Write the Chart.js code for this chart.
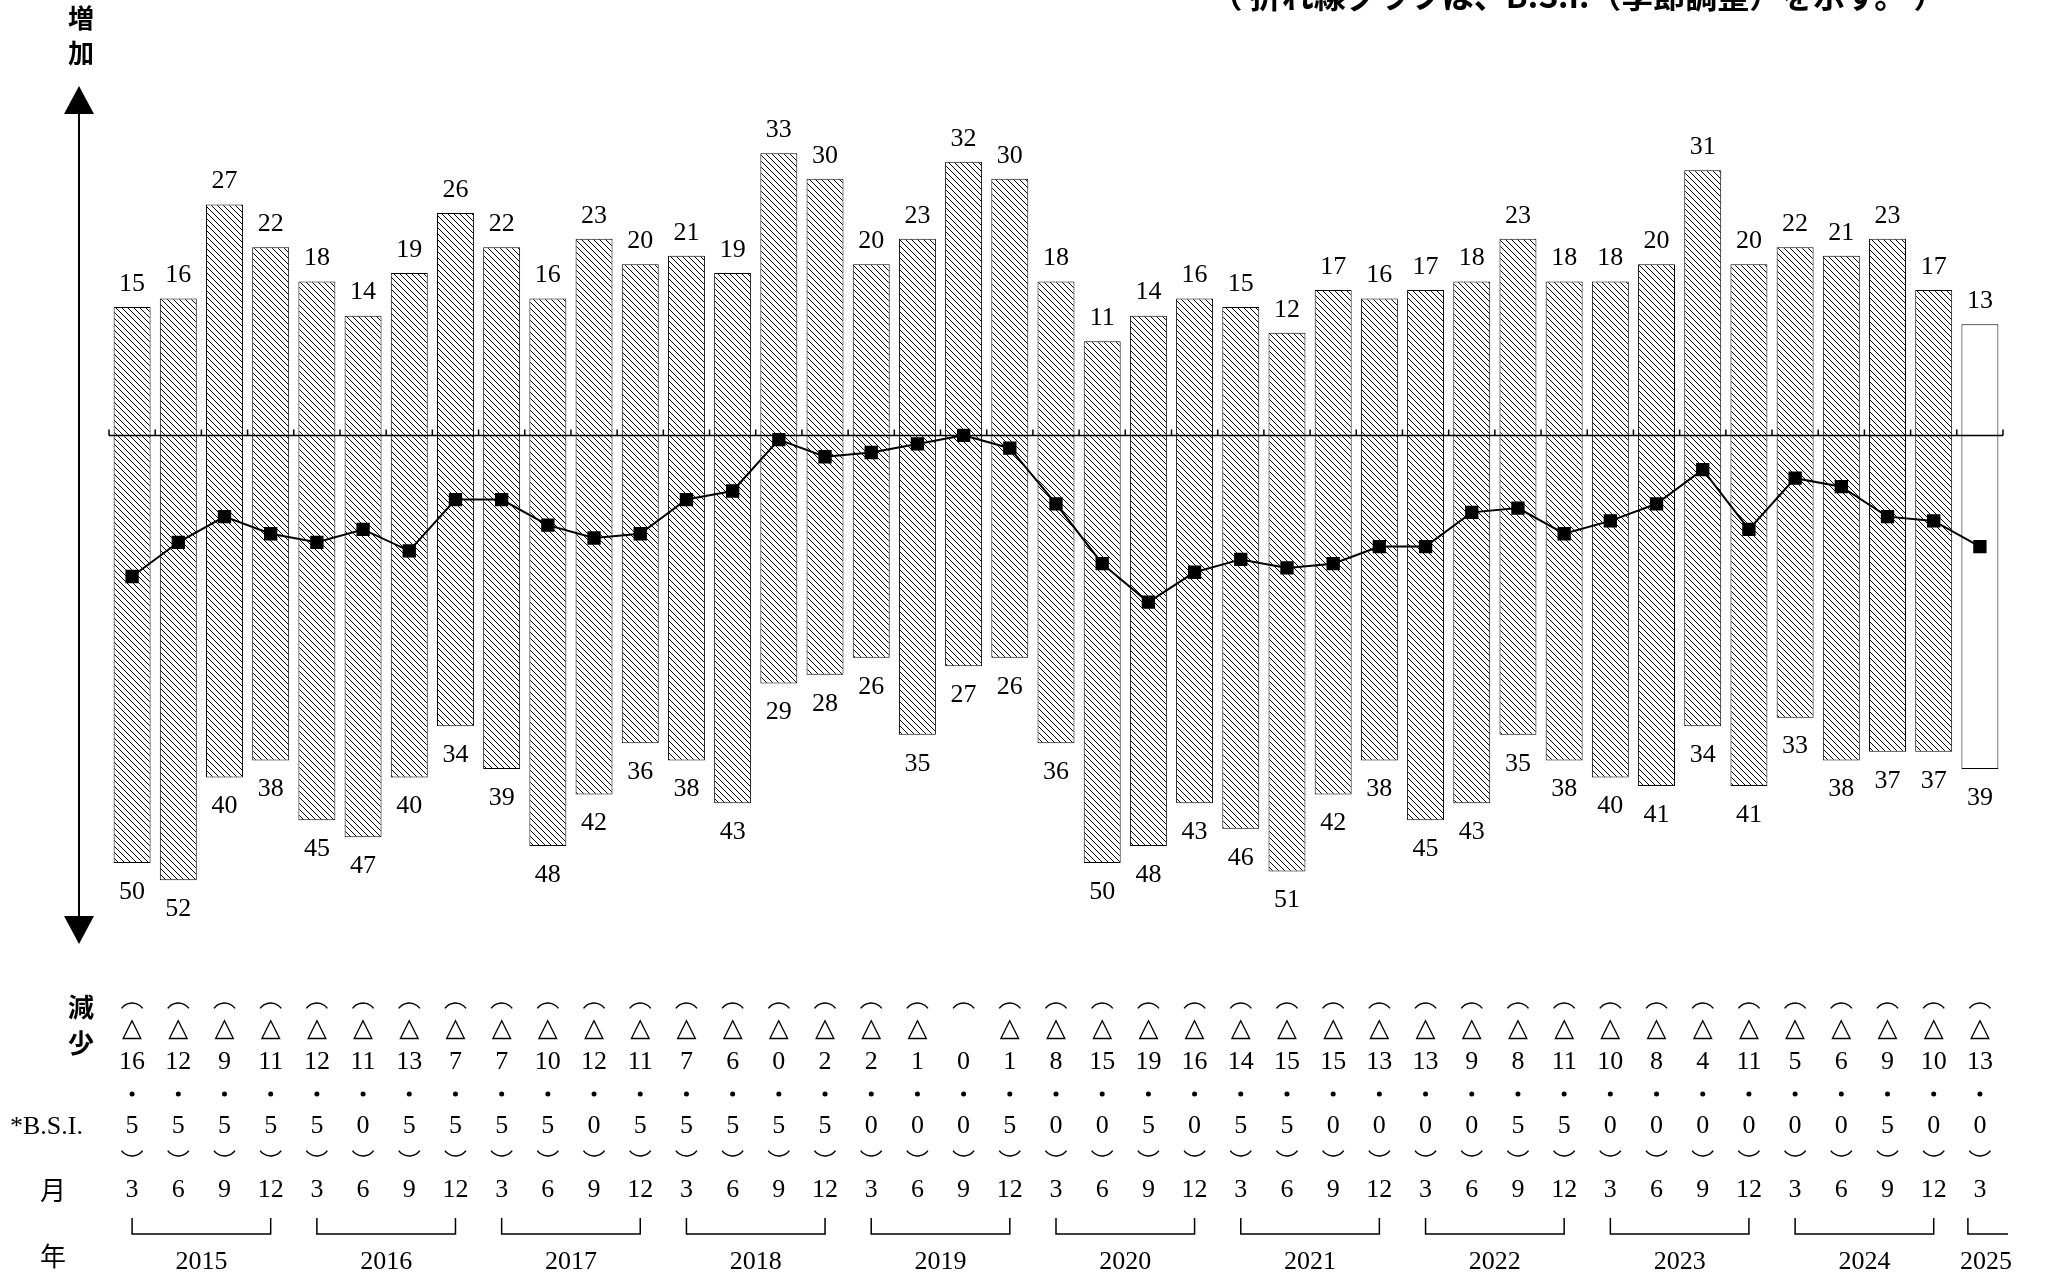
<!DOCTYPE html>
<html><head><meta charset="utf-8">
<script src="https://cdn.jsdelivr.net/npm/chart.js@4"></script>
<style>html,body{margin:0;background:#fff}canvas{display:block}</style>
</head><body>
<div style="width:2048px;height:1272px"><canvas id="c"></canvas></div>
<script>
const months = [3, 6, 9, 12];
const years = ['2015', '2016', '2017', '2018', '2019', '2020', '2021', '2022', '2023', '2024', '2025'];
const increase = [15,16,27,22,18,14,19,26,22,16,23,20,21,19,33,30,20,23,32,30,18,11,14,16,15,12,17,16,17,18,23,18,18,20,31,20,22,21,23,17,13];
const decrease = [50,52,40,38,45,47,40,34,39,48,42,36,38,43,29,28,26,35,27,26,36,50,48,43,46,51,42,38,45,43,35,38,40,41,34,41,33,38,37,37,39];
const bsi = [-16.5,-12.5,-9.5,-11.5,-12.5,-11.0,-13.5,-7.5,-7.5,-10.5,-12.0,-11.5,-7.5,-6.5,-0.5,-2.5,
  -2.0,-1.0,0.0,-1.5,-8.0,-15.0,-19.5,-16.0,-14.5,-15.5,-15.0,-13.0,-13.0,-9.0,-8.5,-11.5,
  -10.0,-8.0,-4.0,-11.0,-5.0,-6.0,-9.5,-10.0,-13.0];

const labels = increase.map((v, i) => months[i % 4]);
const numFont = '26px "Liberation Serif", "DejaVu Serif", serif';
const jpFont = 'bold 26px "Noto Sans CJK JP", sans-serif';

function hatch () {
    const p = document.createElement('canvas');
    p.width = p.height = 6;
    const g = p.getContext('2d');
    g.fillStyle = '#fff';
    g.fillRect(0, 0, 6, 6);
    g.strokeStyle = '#000';
    g.lineWidth = 1;
    g.beginPath();
    g.moveTo(-1, -1); g.lineTo(7, 7);
    g.moveTo(-1, 5); g.lineTo(1, 7);
    g.moveTo(5, -1); g.lineTo(7, 1);
    g.stroke();
    return g.createPattern(p, 'repeat');
}
const pat = hatch();
const fills = increase.map((v, i) => i === increase.length - 1 ? '#fff' : pat);

const overlay = {
    id: 'overlay',
    afterDraw (chart) {
        const ctx = chart.ctx;
        const x = chart.scales.x, y = chart.scales.y;
        const y0 = y.getPixelForValue(0);
        const w = x.getPixelForValue(1) - x.getPixelForValue(0);
        ctx.save();
        ctx.fillStyle = '#000';
        ctx.strokeStyle = '#000';
        // zero line with ticks
        ctx.lineWidth = 1.5;
        ctx.beginPath();
        ctx.moveTo(109, y0); ctx.lineTo(chart.chartArea.right, y0);
        for (let i = 0; i <= increase.length; i++) {
            const xp = x.getPixelForValue(i) - w / 2;
            ctx.moveTo(xp, y0); ctx.lineTo(xp, y0 - 6);
        }
        ctx.stroke();
        // vertical arrow
        ctx.lineWidth = 2;
        ctx.beginPath();
        ctx.moveTo(79, 110); ctx.lineTo(79, 920); ctx.stroke();
        ctx.beginPath();
        ctx.moveTo(79, 86); ctx.lineTo(64, 114); ctx.lineTo(94, 114); ctx.closePath(); ctx.fill();
        ctx.beginPath();
        ctx.moveTo(79, 944); ctx.lineTo(64, 916); ctx.lineTo(94, 916); ctx.closePath(); ctx.fill();

        ctx.textAlign = 'center';
        ctx.font = jpFont;
        ctx.fillText('増', 81, 28);
        ctx.fillText('加', 81, 63);
        ctx.fillText('減', 81, 1017);
        ctx.fillText('少', 81, 1053);
        ctx.font = '26px "Noto Sans CJK JP", sans-serif';
        ctx.fillText('月', 53, 1200);
        ctx.fillText('年', 53, 1266);
        ctx.font = 'bold 32px "Noto Sans CJK JP", sans-serif';
        ctx.fillText('（ 折れ線グラフは、B.S.I.（季節調整）を示す。 ）', 1578, 8);
        ctx.font = numFont;
        ctx.textAlign = 'left';
        ctx.fillText('*B.S.I.', 10, 1134);
        ctx.textAlign = 'center';

        increase.forEach((v, i) => {
            const xp = x.getPixelForValue(i);
            // value labels
            ctx.textBaseline = 'bottom';
            ctx.fillText(String(v), xp, y.getPixelForValue(v) - 10);
            ctx.textBaseline = 'top';
            ctx.fillText(String(decrease[i]), xp, y.getPixelForValue(-decrease[i]) + 16);
            // BSI table
            const b = bsi[i];
            const a = Math.abs(b);
            ctx.textBaseline = 'middle';
            ctx.lineWidth = 1.5;
            ctx.beginPath();
            ctx.arc(xp, 1016, 13, Math.PI * 1.2, Math.PI * 1.8); ctx.stroke();
            ctx.beginPath();
            ctx.arc(xp, 1143, 13, Math.PI * 0.2, Math.PI * 0.8); ctx.stroke();
            if (b < 0) ctx.fillText('△', xp, 1029);
            ctx.fillText(String(Math.floor(a)), xp, 1062);
            ctx.beginPath();
            ctx.arc(xp, 1094, 2.5, 0, Math.PI * 2); ctx.fill();
            ctx.fillText(String(Math.round((a % 1) * 10)), xp, 1126);
            ctx.fillText(String(labels[i]), xp, 1190);
        });
        // year brackets
        years.forEach((yr, k) => {
            const s = k * 4;
            const e = Math.min(s + 3, increase.length - 1);
            const xs = x.getPixelForValue(s), xe = x.getPixelForValue(e);
            ctx.lineWidth = 1.5;
            ctx.beginPath();
            if (e > s) {
                ctx.moveTo(xs, 1218); ctx.lineTo(xs, 1234); ctx.lineTo(xe, 1234); ctx.lineTo(xe, 1218);
            } else {
                ctx.moveTo(xs - 12, 1218); ctx.lineTo(xs - 12, 1234); ctx.lineTo(xs + w / 2 + 5, 1234);
            }
            ctx.stroke();
            ctx.fillText(yr, (xs + xe) / 2 + (e > s ? 0 : 6), 1262);
        });
        ctx.restore();
    }
};

new Chart(document.getElementById('c'), {
    data: {
        labels: labels,
        datasets: [
            { type: 'line', data: bsi, borderColor: '#000', borderWidth: 2, pointStyle: 'rect',
              pointRadius: 8, pointBackgroundColor: '#000', pointBorderColor: '#000', stack: 'b', order: 0 },
            { type: 'bar', data: increase, backgroundColor: fills, borderColor: '#000', borderWidth: 1,
              categoryPercentage: 0.8, barPercentage: 1, stack: 'a', order: 1 },
            { type: 'bar', data: decrease.map(v => -v), backgroundColor: fills, borderColor: '#000', borderWidth: 1,
              categoryPercentage: 0.8, barPercentage: 1, stack: 'a', order: 1 }
        ]
    },
    options: {
        responsive: true,
        maintainAspectRatio: false,
        animation: false,
        layout: { padding: { left: 109, right: 45, top: 89, bottom: 332 } },
        plugins: { legend: { display: false }, tooltip: { enabled: false } },
        scales: {
            x: { display: false, stacked: true },
            y: { display: false, stacked: true, min: -59, max: 40.5 }
        }
    },
    plugins: [overlay]
});
</script>
</body></html>
